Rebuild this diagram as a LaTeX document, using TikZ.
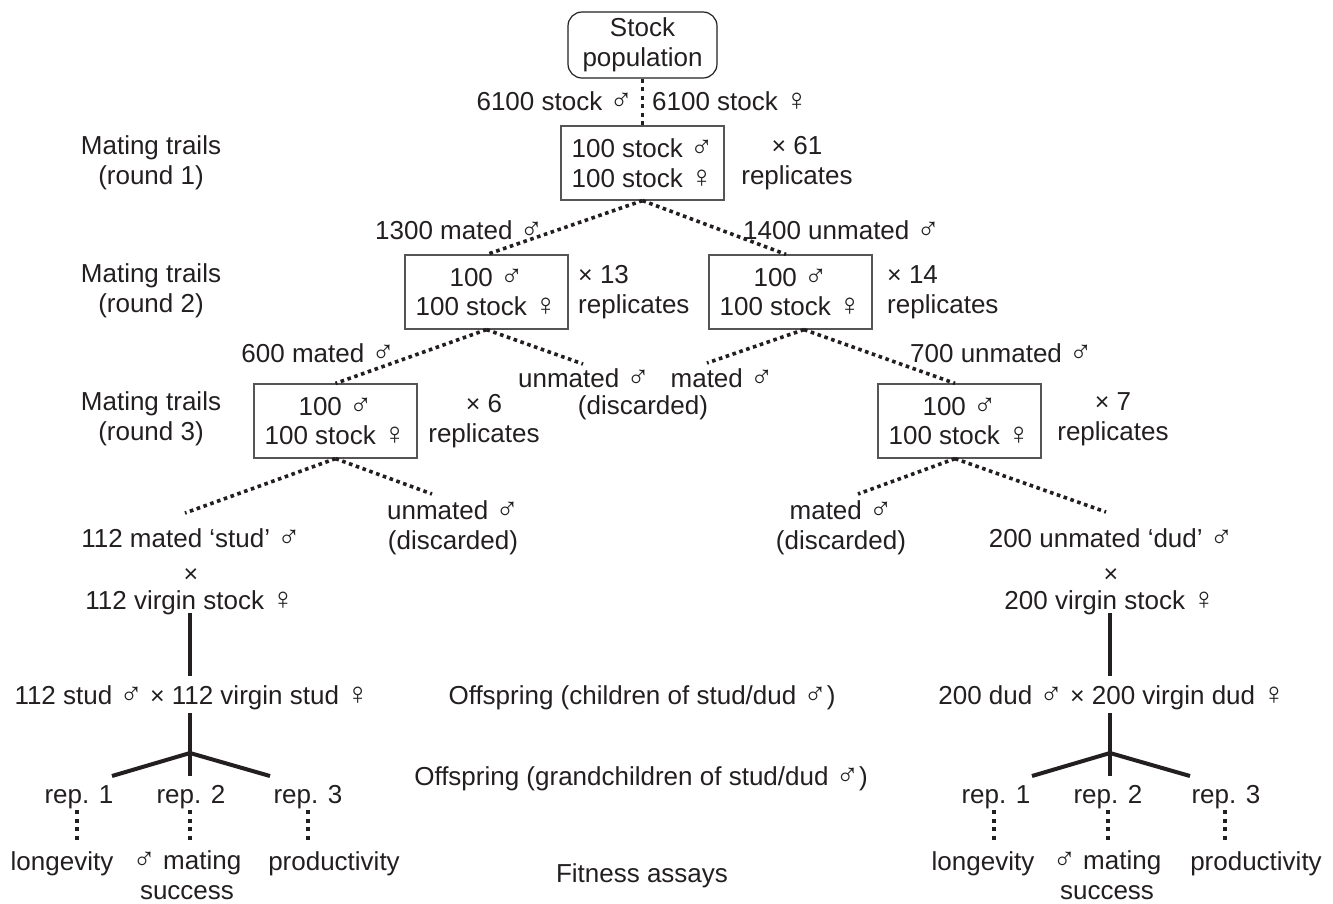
\documentclass[tikz,border=0pt]{standalone}
\usepackage{fontspec}
\setmainfont{Liberation Sans}
\usetikzlibrary{calc}
\definecolor{ink}{HTML}{231F20}
\definecolor{boxline}{HTML}{555555}
\newcommand{\ma}{{\fontsize{31}{29.5}\selectfont ♂}}
\newcommand{\fe}{{\fontsize{31}{29.5}\selectfont ♀}}
\newcommand{\tms}{{\fontsize{25}{29.5}\selectfont ×}}
\begin{document}
\begin{tikzpicture}[x=1pt,y=-1pt,
  every node/.style={font=\fontsize{26}{29.5}\selectfont, text=ink, inner sep=0pt, align=center},
  trial/.style={draw=boxline, line width=1.2pt, minimum width=163pt, minimum height=74pt},
  dotline/.style={draw=ink, line width=3.6pt, dash pattern=on 3.6pt off 3.6pt},
  vdots/.style={draw=ink, line width=3.8pt, dash pattern=on 4pt off 4.5pt},
  solidline/.style={draw=ink, line width=4pt},
]
\useasboundingbox (0,0) rectangle (1333,903);

% top
\node[draw=ink, line width=1.2pt, rounded corners=14pt, minimum width=149pt, minimum height=66pt] (stock) at (642.5,45) {Stock\\population};
\node[anchor=base east] (m6100) at (633,110) {6100 stock \ma};
\node[anchor=base west] (f6100) at (652,110) {6100 stock \fe};

% round 1
\node[trial] (b1) at (642.5,163) {100 stock \ma\\100 stock \fe};
\node (r61) at (797,163) {\tms{} 61\\replicates};
\node (mt1) at (151,163) {Mating trails\\(round 1)};
\node (mt2) at (151,291) {Mating trails\\(round 2)};
\node (mt3) at (151,419) {Mating trails\\(round 3)};

% round 2
\node[anchor=base west] (l1300) at (375,239) {1300 mated \ma};
\node[anchor=base west] (l1400) at (743,239) {1400 unmated \ma};
\node[trial] (b2l) at (486.5,292) {100 \ma\\100 stock \fe};
\node[trial] (b2r) at (790.5,292) {100 \ma\\100 stock \fe};
\node[anchor=west, align=left] (r13) at (578,292) {\tms{} 13\\replicates};
\node[anchor=west, align=left] (r14) at (887,292) {\tms{} 14\\replicates};

\node[anchor=base east] (l600) at (395,362) {600 mated \ma};
\node[anchor=base west] (l700) at (910,362) {700 unmated \ma};
\node[anchor=base] (um2) at (584,387) {unmated \ma};
\node[anchor=base] (m2) at (722,387) {mated \ma};
\node[anchor=base] (disc2) at (643,414) {(discarded)};

% round 3
\node[trial] (b3l) at (335.5,421) {100 \ma\\100 stock \fe};
\node (r6) at (484,421) {\tms{} 6\\replicates};
\node[trial] (b3r) at (959.5,421) {100 \ma\\100 stock \fe};
\node (r7) at (1113,419) {\tms{} 7\\replicates};

\node (um3) at (453,528) {unmated \ma\\(discarded)};
\node (m3) at (841,528) {mated \ma\\(discarded)};

% studs / duds
\node[anchor=base] (stud) at (191,547) {112 mated ‘stud’ \ma};
\node[anchor=base] (xs) at (191,582) {\tms};
\node[anchor=base] (vs1) at (190,609) {112 virgin stock \fe};
\node[anchor=base] (dud) at (1111,547) {200 unmated ‘dud’ \ma};
\node[anchor=base] (xd) at (1111,582) {\tms};
\node[anchor=base] (vs2) at (1110,609) {200 virgin stock \fe};

\node[anchor=base] (c1) at (192,704) {112 stud \ma{} \tms{} 112 virgin stud \fe};
\node[anchor=base] (c2) at (1112,704) {200 dud \ma{} \tms{} 200 virgin dud \fe};

\node[anchor=base] (off1) at (642,704) {Offspring (children of stud/dud \ma)};
\node[anchor=base] (off2) at (641,785) {Offspring (grandchildren of stud/dud \ma)};
\node[anchor=base] (fit) at (642,882) {Fitness assays};

% replicates
\node[anchor=base] (p1) at (79,803) {rep. 1};
\node[anchor=base] (p2) at (191,803) {rep. 2};
\node[anchor=base] (p3) at (308,803) {rep. 3};
\node[anchor=base] (q1) at (996,803) {rep. 1};
\node[anchor=base] (q2) at (1108,803) {rep. 2};
\node[anchor=base] (q3) at (1226,803) {rep. 3};

\node[anchor=base] (lon1) at (62,870) {longevity};
\node (ms1) at (187,875) {\ma{} mating\\success};
\node[anchor=base] (pro1) at (334,870) {productivity};
\node[anchor=base] (lon2) at (983,870) {longevity};
\node (ms2) at (1107,875) {\ma{} mating\\success};
\node[anchor=base] (pro2) at (1256,870) {productivity};

% coordinates for free ends
\coordinate (e2l) at (583,364);
\coordinate (e2r) at (707,363);
\coordinate (e3l1) at (185,513);
\coordinate (e3l2) at (432,494);
\coordinate (e3r1) at (858,494);
\coordinate (e3r2) at (1106,512);
\coordinate (fk1) at (190,753);
\coordinate (a11) at (112,776);
\coordinate (a12) at (190,776);
\coordinate (a13) at (270,776);
\coordinate (fk2) at (1110,753);
\coordinate (a21) at (1032,776);
\coordinate (a22) at (1110,776);
\coordinate (a23) at (1190,776);

% dotted connectors
\draw[vdots] (stock.south) -- (b1.north);
\draw[dotline] (b1.south) -- ([xshift=0.5pt]b2l.north);
\draw[dotline] (b1.south) -- ([xshift=-4.5pt]b2r.north);
\draw[dotline] (b2l.south) -- (b3l.north);
\draw[dotline] (b2l.south) -- (e2l);
\draw[dotline] ([xshift=13.5pt]b2r.south) -- (e2r);
\draw[dotline] ([xshift=13.5pt]b2r.south) -- ([xshift=-4.5pt]b3r.north);
\draw[dotline] (b3l.south) -- (e3l1);
\draw[dotline] (b3l.south) -- (e3l2);
\draw[dotline] ([xshift=-4.5pt]b3r.south) -- (e3r1);
\draw[dotline] ([xshift=-4.5pt]b3r.south) -- (e3r2);

% solid connectors
\draw[solidline] (vs1.south |- 0,613) -- (vs1.south |- 0,676);
\draw[solidline] (vs2.south |- 0,613) -- (vs2.south |- 0,676);
\draw[solidline] (c1.south -| fk1) ++(0,3.5) -- (a12);
\draw[solidline] (c2.south -| fk2) ++(0,3.5) -- (a22);
\draw[solidline] (a11) -- (fk1) -- (a13);
\draw[solidline] (a21) -- (fk2) -- (a23);

% short dotted verticals
\draw[vdots, shorten <=1.5pt, shorten >=11pt] ([xshift=-2pt]p1.south) -- ([xshift=-2pt]p1.south |- lon1.north);
\draw[vdots, shorten <=1.5pt, shorten >=11pt] ([xshift=-1pt]p2.south) -- ([xshift=-1pt]p2.south |- lon1.north);
\draw[vdots, shorten <=1.5pt, shorten >=11pt] (p3.south) -- (p3.south |- lon1.north);
\draw[vdots, shorten <=1.5pt, shorten >=11pt] ([xshift=-2pt]q1.south) -- ([xshift=-2pt]q1.south |- lon2.north);
\draw[vdots, shorten <=1.5pt, shorten >=11pt] (q2.south) -- (q2.south |- lon2.north);
\draw[vdots, shorten <=1.5pt, shorten >=11pt] ([xshift=-1pt]q3.south) -- ([xshift=-1pt]q3.south |- lon2.north);
\end{tikzpicture}
\end{document}
